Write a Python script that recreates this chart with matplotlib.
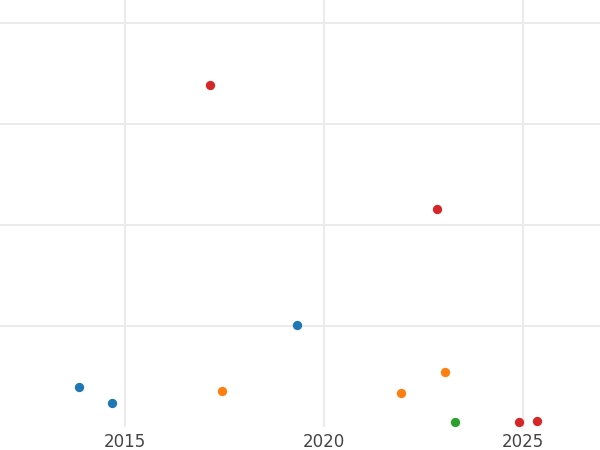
import matplotlib
matplotlib.use("Agg")
import matplotlib.pyplot as plt

# values (y is in arbitrary units, grid every 10)
blue_x = [2013.84, 2014.67, 2019.32]
blue_y = [3.96, 2.38, 10.1]
orange_x = [2017.44, 2021.93, 2023.04]
orange_y = [3.56, 3.37, 5.45]
green_x = [2023.29]
green_y = [0.5]
red_x = [2017.14, 2022.84, 2024.90, 2025.35]
red_y = [33.9, 21.6, 0.5, 0.6]

xticks = [2015, 2020, 2025]
yticks = [10, 20, 30, 40]

fig = plt.figure(figsize=(6, 4.5), dpi=100)
ax = fig.add_axes([0, 0.051, 1, 0.949])

for xs, ys, c in [(blue_x, blue_y, "#1f77b4"),
                  (orange_x, orange_y, "#ff7f0e"),
                  (green_x, green_y, "#2ca02c"),
                  (red_x, red_y, "#d62728")]:
    ax.scatter(xs, ys, s=45, color=c, zorder=3, linewidths=0)

ax.set_xlim(2011.86, 2026.93)
ax.set_ylim(0, 42.3)
ax.set_xticks(xticks)
ax.set_xticklabels([str(t) for t in xticks])
ax.set_yticks(yticks)
ax.set_yticklabels([])
ax.grid(True, color="#ebebeb", linewidth=1.5)
ax.set_axisbelow(True)
for s in ax.spines.values():
    s.set_visible(False)
ax.tick_params(length=0, labelsize=12, labelcolor="#444444", pad=4)

fig.savefig("out.png", dpi=100)
